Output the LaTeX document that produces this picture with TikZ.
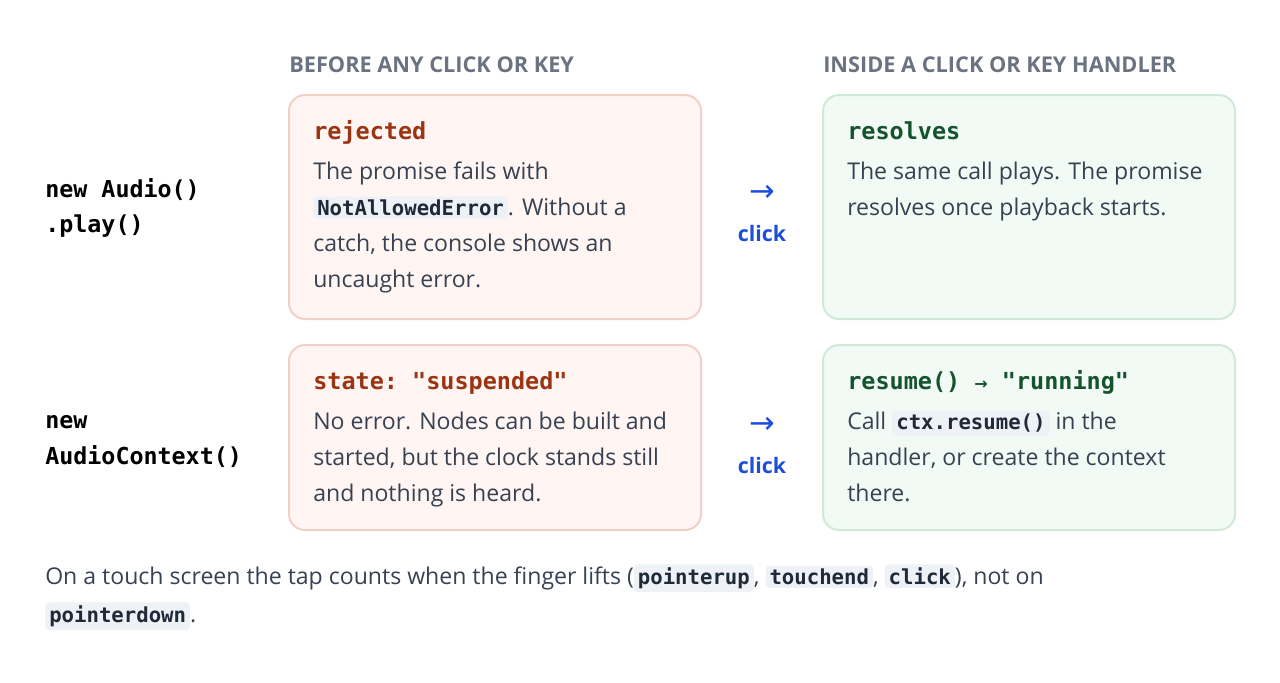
\documentclass[tikz,border=0pt]{standalone}
\usepackage{fontspec}
\setmainfont{Open Sans}
\setmonofont{DejaVu Sans Mono}
\newfontfamily\arrowfont{DejaVu Sans}
\definecolor{hdr}{HTML}{6B7280}
\definecolor{body}{HTML}{374151}
\definecolor{redt}{HTML}{9A3412}
\definecolor{grnt}{HTML}{14532D}
\definecolor{redf}{HTML}{FFF5F3}
\definecolor{redd}{HTML}{F2D0C8}
\definecolor{grnf}{HTML}{F1FAF4}
\definecolor{grnd}{HTML}{D0EAD7}
\definecolor{clk}{HTML}{1D4ED8}
\definecolor{codebg}{HTML}{EEF2F6}
\definecolor{codet}{HTML}{1F2937}
\newcommand{\icode}[1]{\tikz[baseline=(c.base)]\node[fill=codebg,rounded corners=3pt,inner xsep=3pt,inner ysep=2.5pt,text=codet,font=\fontsize{15.5}{18}\ttfamily\bfseries](c){#1};}
\begin{document}
\begin{tikzpicture}[x=0.75pt,y=-0.75pt,
  hd/.style={anchor=mid west,text=hdr,font=\fontsize{16.3}{18}\selectfont\bfseries},
  txt/.style={anchor=mid west,text=body,inner sep=0pt,font=\fontsize{17.3}{20}\selectfont},
  ttl/.style={anchor=mid west,inner sep=0pt,font=\fontsize{17.6}{20}\ttfamily\bfseries},
  lbl/.style={anchor=mid west,inner sep=0pt,text=black,font=\fontsize{17.5}{20}\ttfamily\bfseries},
  rbox/.style={draw=redd,fill=redf,line width=1.5pt,rounded corners=12pt},
  gbox/.style={draw=grnd,fill=grnf,line width=1.5pt,rounded corners=12pt},
  arr/.style={anchor=center,text=clk,inner sep=0pt,font=\fontsize{23}{26}\arrowfont},
  clickt/.style={anchor=center,text=clk,inner sep=0pt,font=\fontsize{16}{20}\selectfont\bfseries}]
\useasboundingbox (0,0) rectangle (1280,682);
\node[hd,inner sep=0pt] (h1) at (289,69) {BEFORE ANY CLICK OR KEY};
\node[hd,inner sep=0pt] (h2) at (823,69) {INSIDE A CLICK OR KEY HANDLER};
% boxes
\path[rbox] (289,95) rectangle (701,319);
\path[gbox] (823,95) rectangle (1235,319);
\path[rbox] (289,345) rectangle (701,530);
\path[gbox] (823,345) rectangle (1235,530);
% row labels
\node[lbl] (l1a) at (45,194) {new Audio()};
\node[lbl] (l1b) at (45,229) {.play()};
\node[lbl] (l2a) at (45,425) {new};
\node[lbl] (l2b) at (45,461) {AudioContext()};
% row 1 left
\node[ttl,text=redt] (t1) at (313,136) {rejected};
\node[txt] (b1) at (313,176) {The promise fails with};
\node[txt] (b2) at (313,212) {\icode{NotAllowedError}. Without a};
\node[txt] (b3) at (313,248) {catch, the console shows an};
\node[txt] (b4) at (313,284) {uncaught error.};
% row 1 right
\node[ttl,text=grnt] (t2) at (847,136) {resolves};
\node[txt] (c1) at (847,176) {The same call plays. The promise};
\node[txt] (c2) at (847,212) {resolves once playback starts.};
% arrows
\node[arr] (a1) at (762,193) {→};
\node[clickt] (k1) at (762,233) {click};
\node[arr] (a2) at (762,425) {→};
\node[clickt] (k2) at (762,465) {click};
% row 2 left
\node[ttl,text=redt] (t3) at (313,386) {state: "suspended"};
\node[txt] (d1) at (313,426) {No error. Nodes can be built and};
\node[txt] (d2) at (313,462) {started, but the clock stands still};
\node[txt] (d3) at (313,498) {and nothing is heard.};
% row 2 right
\node[ttl,text=grnt] (t4) at (847,386) {resume() {\arrowfont\fontsize{12}{14}\selectfont →} "running"};
\node[txt] (e1) at (847,426) {Call \icode{ctx.resume()} in the};
\node[txt] (e2) at (847,462) {handler, or create the context};
\node[txt] (e3) at (847,498) {there.};
% footer
\node[txt] (f1) at (45,581) {On a touch screen the tap counts when the finger lifts (\icode{pointerup}, \icode{touchend}, \icode{click}), not on};
\node[txt] (f2) at (45,619) {\icode{pointerdown}.};
\end{tikzpicture}
\end{document}
